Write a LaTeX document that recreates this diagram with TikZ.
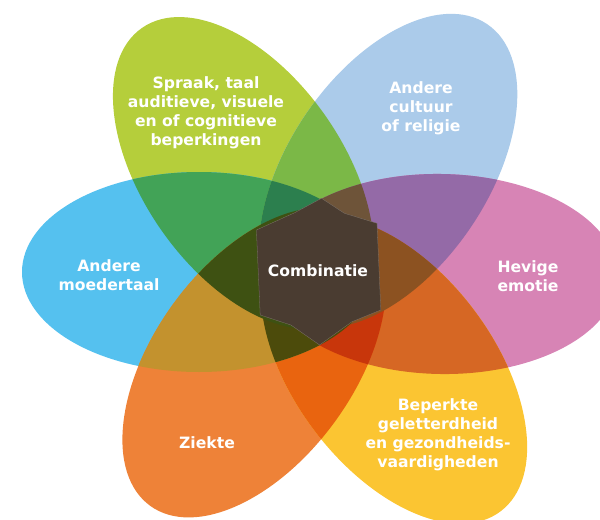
\documentclass[tikz,border=0pt]{standalone}
\usepackage{fontspec}
\setmainfont{DejaVu Sans}
\usetikzlibrary{positioning}

% petal colours
\definecolor{cGreen}{HTML}{B5CE3B}
\definecolor{cLightblue}{HTML}{ABCBEA}
\definecolor{cBlue}{HTML}{55C1EF}
\definecolor{cPink}{HTML}{D784B5}
\definecolor{cOrange}{HTML}{EE8238}
\definecolor{cYellow}{HTML}{FBC532}
% overlaps of two neighbours
\definecolor{cGreenBlue}{HTML}{42A357}
\definecolor{cGreenLight}{HTML}{7BB847}
\definecolor{cLightPink}{HTML}{946AA7}
\definecolor{cPinkYellow}{HTML}{D66724}
\definecolor{cYellowOrange}{HTML}{E9640F}
\definecolor{cOrangeBlue}{HTML}{C3922E}
% overlaps of three neighbours
\definecolor{cTeal}{HTML}{2C7F4E}
\definecolor{cBrown}{HTML}{6E5439}
\definecolor{cRust}{HTML}{8C5221}
\definecolor{cRed}{HTML}{C8360B}
\definecolor{cDarkOlive}{HTML}{4C4B0B}
\definecolor{cOlive}{HTML}{3E5112}
\definecolor{cCentre}{HTML}{4A3C31}

\newcommand{\petalshape}{(0,0) ellipse [x radius=177, y radius=100]}

\tikzset{
  atGreen/.style={shift={(243.4,173)}, rotate=125},
  atLightblue/.style={shift={(388.2,170.9)}, rotate=56},
  atBlue/.style={shift={(199,272)}, rotate=180},
  atPink/.style={shift={(441,274)}, rotate=-1},
  atOrange/.style={shift={(254.2,362.6)}, rotate=234},
  atYellow/.style={shift={(394,370)}, rotate=307},
  petaltext/.style={text=white, align=center, inner sep=0pt,
    font=\bfseries\fontsize{11.1}{13.6}\selectfont}
}

\begin{document}
\begin{tikzpicture}[x=0.025cm, y=-0.025cm]
    \useasboundingbox (0,0) rectangle (600,520);
    \clip (0,0) rectangle (600,520);

    % Petals
    \fill[atGreen, cGreen] \petalshape;
    \fill[atLightblue, cLightblue] \petalshape;
    \fill[atBlue, cBlue] \petalshape;
    \fill[atPink, cPink] \petalshape;
    \fill[atOrange, cOrange] \petalshape;
    \fill[atYellow, cYellow] \petalshape;

    % Two neighbours
    \begin{scope}
        \clip[atGreen] \petalshape;
        \fill[atBlue, cGreenBlue] \petalshape;
        \fill[atLightblue, cGreenLight] \petalshape;
    \end{scope}
    \begin{scope}
        \clip[atPink] \petalshape;
        \fill[atLightblue, cLightPink] \petalshape;
        \fill[atYellow, cPinkYellow] \petalshape;
    \end{scope}
    \begin{scope}
        \clip[atOrange] \petalshape;
        \fill[atYellow, cYellowOrange] \petalshape;
        \fill[atBlue, cOrangeBlue] \petalshape;
    \end{scope}

    % Three neighbours
    \begin{scope}
        \clip[atGreen] \petalshape;
        \clip[atLightblue] \petalshape;
        \fill[atBlue, cTeal] \petalshape;
        \fill[atPink, cBrown] \petalshape;
    \end{scope}
    \begin{scope}
        \clip[atPink] \petalshape;
        \clip[atYellow] \petalshape;
        \fill[atOrange, cRed] \petalshape;
        \fill[atLightblue, cRust] \petalshape;
    \end{scope}
    \begin{scope}
        \clip[atOrange] \petalshape;
        \clip[atBlue] \petalshape;
        \fill[atYellow, cDarkOlive] \petalshape;
        \fill[atGreen, cOlive] \petalshape;
    \end{scope}

    % Centre
    \fill[cCentre, draw=white!30!cCentre, line width=0.2pt]
        (321.5,198.3) -- (344.4,213.3) -- (377,223.3) -- (380.8,310)
        -- (352,321.7) -- (319.6,345) -- (290.9,325) -- (260.2,315)
        -- (256.4,230) -- (294.7,212.7) -- cycle;

    % Labels
    \node[petaltext] (comb) at (318,271) {Combinatie};
    \node[petaltext] (spraak) at (206,113) {Spraak, taal\\auditieve, visuele\\en of cognitieve\\beperkingen};
    \node[petaltext] (cultuur) at (421,108) {Andere\\cultuur\\of religie};
    \node[petaltext] (moedertaal) at (109,275) {Andere\\moedertaal};
    \node[petaltext] (emotie) at (528,276) {Hevige\\emotie};
    \node[petaltext] (ziekte) at (207,443) {Ziekte};
    \node[petaltext] (geletterd) at (438,435) {Beperkte\\geletterdheid\\en gezondheids-\\vaardigheden};
\end{tikzpicture}
\end{document}
